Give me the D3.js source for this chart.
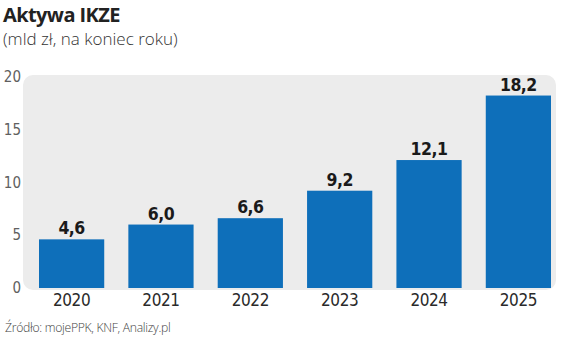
<!DOCTYPE html>
<html><head><meta charset="utf-8">
<script src="https://cdn.jsdelivr.net/npm/d3@7"></script>
<style>
html,body{margin:0;padding:0;background:#fff;}
svg{display:block;}
</style></head>
<body>
<script>
const years = ["2020","2021","2022","2023","2024","2025"];
const values = [4.6, 6.0, 6.6, 9.2, 12.1, 18.2];
const yTicks = [0, 5, 10, 15, 20];
const title = "Aktywa IKZE";
const subtitle = "(mld zł, na koniec roku)";
const source = "Źródło: mojePPK, KNF, Analizy.pl";

const W = 564, H = 339;
const svg = d3.select("body").append("svg").attr("width", W).attr("height", H);

const x = d3.scaleBand().domain(years).range([39, 551]).paddingInner(0.27).paddingOuter(0);
const y = d3.scaleLinear().domain([0, 20]).range([288, 76.5]);

const fmt = v => d3.format(".1f")(v).replace(".", ",");

// background panel
svg.append("rect").attr("x", 23).attr("y", 75).attr("width", 533).attr("height", 215)
  .attr("rx", 10).attr("fill", "#ececec");

// title
svg.append("text").attr("x", 3).attr("y", 22).text(title)
  .attr("font-family", "'Open Sans', sans-serif").attr("font-weight", 700)
  .attr("font-size", 20).attr("fill", "#222").attr("letter-spacing", -0.6);
svg.append("text").attr("x", 3).attr("y", 45).text(subtitle)
  .attr("font-family", "'Open Sans', sans-serif").attr("font-weight", 300)
  .attr("font-size", 17).attr("fill", "#333").attr("letter-spacing", 0);

// y axis
const yAxis = d3.axisLeft(y).tickValues(yTicks).tickSize(0).tickPadding(0);
const gy = svg.append("g").attr("transform", "translate(21,0)").call(yAxis);
gy.select(".domain").remove();
gy.selectAll("text").attr("font-family", "'DejaVu Sans Condensed', sans-serif")
  .attr("font-size", 15).attr("fill", "#606060").attr("dy", "0.32em");

// bars
svg.append("g").selectAll("rect").data(values).join("rect")
  .attr("x", (d, i) => x(years[i])).attr("width", x.bandwidth())
  .attr("y", d => y(d)).attr("height", d => y(0) - y(d))
  .attr("fill", "#0e6fba");

// value labels
svg.append("g").selectAll("text").data(values).join("text")
  .attr("x", (d, i) => x(years[i]) + x.bandwidth() / 2)
  .attr("y", d => y(d) - 5)
  .attr("text-anchor", "middle")
  .attr("font-family", "'DejaVu Sans Condensed', sans-serif").attr("font-weight", 700)
  .attr("font-size", 17.5).attr("fill", "#1a1a1a").attr("letter-spacing", -0.5)
  .text(d => fmt(d));

// x axis
const xAxis = d3.axisBottom(x).tickSize(0).tickPadding(0);
const gx = svg.append("g").attr("transform", "translate(0,306)").call(xAxis);
gx.select(".domain").remove();
gx.selectAll("text").attr("dy", 0).attr("font-family", "'DejaVu Sans Condensed', sans-serif")
  .attr("font-size", 17).attr("font-weight", 500).attr("fill", "#2a2a2a").attr("letter-spacing", -0.4);

// source
svg.append("text").attr("x", 5).attr("y", 332).text(source)
  .attr("font-family", "'Open Sans', sans-serif").attr("font-weight", 300)
  .attr("font-size", 12.2).attr("fill", "#444").attr("letter-spacing", -0.3);
</script>
</body></html>
